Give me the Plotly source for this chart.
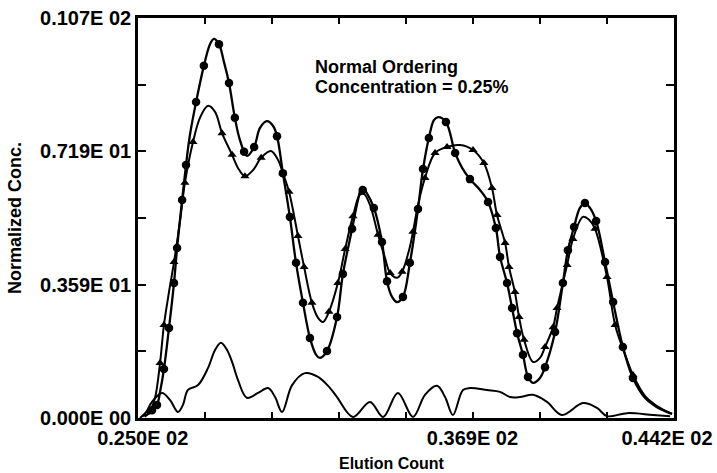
import plotly.graph_objects as go

# ---- data ----
# Series A: circles (smooth line through read points)
a_line_x = [25.14, 25.43, 25.68, 25.79, 25.93, 26.11, 26.29, 26.40, 26.58, 26.72, 26.86, 27.08, 27.36, 27.58, 27.72,
            27.90, 28.08, 28.26, 28.47, 28.65, 28.90, 29.16, 29.37, 29.62, 29.84, 29.98, 30.19, 30.44, 30.66, 30.91,
            31.16, 31.38, 31.52, 31.77, 32.13, 32.34, 32.67, 32.88, 33.02, 33.17, 33.45, 33.74, 33.92, 34.10, 34.28,
            34.49, 34.74, 35.03, 35.21, 35.42, 35.60, 35.75, 36.03, 36.36, 36.61, 36.89, 37.25, 37.54, 37.82, 37.97,
            38.22, 38.40, 38.58, 38.79, 38.97, 39.15, 39.40, 39.58, 39.94, 40.22, 40.40, 40.62, 40.83, 41.01, 41.19,
            41.41, 41.73, 42.02, 42.37, 42.73, 43.16, 43.59, 44.13]
a_line_y = [0.05, 0.13, 0.35, 0.70, 1.31, 2.41, 3.61, 4.55, 5.83, 6.77, 7.57, 8.45, 9.42, 10.00, 10.14,
            10.00, 9.52, 8.96, 8.03, 7.44, 7.01, 7.25, 7.76, 7.94, 7.81, 7.54, 6.55, 5.38, 4.15, 3.08,
            2.14, 1.69, 1.61, 1.79, 2.70, 3.85, 5.06, 5.83, 6.18, 6.05, 5.62, 4.71, 3.66, 3.24, 3.10,
            3.24, 4.15, 5.59, 6.66, 7.49, 7.97, 8.05, 7.92, 7.09, 6.69, 6.39, 6.10, 5.78, 5.08, 4.31,
            3.61, 2.94, 2.27, 1.69, 1.10, 0.94, 1.07, 1.36, 2.30, 3.61, 4.49, 5.11, 5.62, 5.75, 5.62,
            5.27, 4.17, 3.10, 1.90, 1.07, 0.54, 0.29, 0.11]
a_mark_x = [25.50, 25.68, 25.93, 26.11, 26.29, 26.40, 26.58, 26.72, 27.08, 27.36, 27.90, 28.26, 28.47, 28.80,
            29.16, 29.98, 30.19, 30.44, 30.66, 30.91, 31.16, 31.77, 32.13, 32.34, 32.67, 33.05, 33.45, 33.74,
            33.92, 34.49, 34.74, 35.03, 35.21, 35.42, 36.03, 36.36, 36.89, 37.54, 37.82, 37.97, 38.22, 38.40,
            38.58, 38.79, 38.97, 39.58, 39.94, 40.22, 40.40, 40.62, 41.01, 41.41, 41.73, 42.02, 42.37, 42.73]
a_mark_y = [0.21, 0.35, 1.31, 2.41, 3.61, 4.55, 5.83, 6.77, 8.45, 9.42, 10.00, 8.96, 8.03, 7.12,
            7.25, 7.54, 6.55, 5.38, 4.15, 3.08, 2.14, 1.79, 2.70, 3.85, 5.06, 6.10, 5.62, 4.71,
            3.66, 3.24, 4.15, 5.59, 6.66, 7.49, 7.92, 7.09, 6.39, 5.78, 5.08, 4.31, 3.61, 2.94,
            2.27, 1.69, 1.10, 1.36, 2.30, 3.61, 4.49, 5.11, 5.75, 5.27, 4.17, 3.10, 1.90, 1.07]

# Series B: triangles
b_line_x = [25.25, 25.43, 25.61, 25.79, 25.93, 26.11, 26.29, 26.50, 26.68, 26.97, 27.22, 27.51, 27.76, 28.01,
            28.37, 28.58, 28.83, 29.12, 29.41, 29.76, 30.02, 30.19, 30.41, 30.73, 30.95, 31.23, 31.45, 31.63,
            31.84, 32.16, 32.42, 32.70, 32.95, 33.10, 33.31, 33.60, 33.85, 34.03, 34.28, 34.46, 34.71, 34.85,
            35.03, 35.28, 35.64, 36.07, 36.53, 37.00, 37.39, 37.68, 37.86, 38.15, 38.29, 38.50, 38.65, 38.83,
            39.15, 39.40, 39.58, 39.87, 40.01, 40.37, 40.58, 40.94, 41.16, 41.37, 41.80, 42.09, 42.45, 42.73,
            43.16, 43.59, 44.13]
b_line_y = [0.03, 0.19, 0.54, 1.47, 2.49, 3.37, 4.17, 5.24, 6.29, 7.38, 8.03, 8.35, 8.19, 7.62,
            7.04, 6.69, 6.47, 6.63, 6.96, 7.14, 6.90, 6.55, 6.05, 4.87, 4.04, 3.08, 2.68, 2.57,
            2.84, 3.61, 4.52, 5.40, 5.97, 5.99, 5.70, 4.90, 4.28, 3.88, 3.75, 3.91, 4.49, 4.98,
            5.70, 6.42, 7.09, 7.25, 7.30, 7.17, 6.82, 6.15, 5.43, 4.68, 4.04, 3.37, 2.70, 2.09,
            1.50, 1.61, 1.90, 2.43, 2.94, 4.09, 4.79, 5.38, 5.30, 5.06, 3.77, 2.49, 1.69, 1.15,
            0.59, 0.32, 0.11]
b_mark_x = [25.43, 25.79, 25.93, 26.29, 26.68, 26.97, 28.01, 28.37, 28.83, 29.41, 30.19, 30.41, 30.73, 30.95,
            31.23, 31.84, 32.16, 32.42, 32.70, 33.60, 34.03, 34.46, 34.85, 35.28, 35.64, 36.07, 37.00, 37.39,
            37.68, 37.86, 38.15, 38.29, 38.50, 38.65, 38.83, 39.58, 39.87, 40.01, 40.37, 40.58, 41.37, 41.80,
            42.09, 42.73]
b_mark_y = [0.19, 1.47, 2.49, 4.17, 6.29, 7.38, 7.62, 7.04, 6.47, 6.96, 6.55, 6.05, 4.87, 4.04,
            3.08, 2.84, 3.61, 4.52, 5.40, 4.90, 3.88, 3.91, 4.98, 6.42, 7.09, 7.25, 7.17, 6.82,
            6.15, 5.43, 4.68, 4.04, 3.37, 2.70, 2.09, 1.90, 2.43, 2.94, 4.09, 4.79, 5.06, 3.77,
            2.49, 1.15]

# Residual curve (no markers)
r_x = [25.07, 25.29, 25.50, 25.86, 26.15, 26.43, 26.61, 26.79, 27.15, 27.51, 27.76, 27.97, 28.19, 28.37,
       28.58, 28.90, 29.30, 29.66, 29.91, 30.16, 30.52, 30.98, 31.45, 31.88, 32.13, 32.70, 33.31, 33.78,
       34.31, 34.85, 35.28, 35.71, 36.00, 36.28, 36.64, 36.89, 37.50, 37.97, 38.33, 38.68, 39.15, 39.65,
       40.19, 40.94, 41.44, 41.80, 42.52, 43.45, 44.06]
r_y = [0.00, 0.16, 0.43, 0.67, 0.48, 0.16, 0.35, 0.75, 0.88, 1.34, 1.82, 2.01, 1.82, 1.50,
       1.02, 0.54, 0.67, 0.80, 0.56, 0.16, 0.88, 1.20, 1.10, 0.80, 0.56, 0.03, 0.43, 0.03,
       0.67, 0.03, 0.62, 0.86, 0.56, 0.08, 0.75, 0.80, 0.75, 0.70, 0.56, 0.56, 0.62, 0.43,
       0.08, 0.40, 0.27, 0.05, 0.13, 0.08, 0.05]

# tick labels (label positions as printed in the reference) and tick marks
x_label_vals = [25.17, 36.98, 43.95]
x_tick_text = ["0.250E 02", "0.369E 02", "0.442E 02"]
x_mark_vals = [27.4, 29.8, 32.2, 34.6, 37.0, 39.4, 41.8]
y_tick_vals = [0.0, 3.567, 7.133, 10.7]
y_tick_text = ["0.000E 00", "0.359E 01", "0.719E 01", "0.107E 02"]
y_mark_vals = [1.783, 5.35, 8.917]

x_title = "Elution Count"
y_title = "Normalized Conc."
note_lines = ["Normal Ordering", "Concentration = 0.25%"]
note_x = 31.27
note_y = [9.39, 8.85]

FONT = "Liberation Sans"
fig = go.Figure()
fig.add_trace(go.Scatter(x=a_line_x, y=a_line_y, mode="lines", line=dict(color="black", width=2.3, shape="spline"),
                         hoverinfo="skip", showlegend=False))
fig.add_trace(go.Scatter(x=a_mark_x, y=a_mark_y, mode="markers",
                         marker=dict(symbol="circle", size=8.5, color="black"), showlegend=False))
fig.add_trace(go.Scatter(x=b_line_x, y=b_line_y, mode="lines", line=dict(color="black", width=2, shape="spline"),
                         hoverinfo="skip", showlegend=False))
fig.add_trace(go.Scatter(x=b_mark_x, y=b_mark_y, mode="markers",
                         marker=dict(symbol="triangle-up", size=8, color="black"), showlegend=False))
fig.add_trace(go.Scatter(x=r_x, y=r_y, mode="lines", line=dict(color="black", width=2, shape="spline"),
                         showlegend=False))

axis_common = dict(showgrid=False, zeroline=False, showline=True, linecolor="black", linewidth=2.5,
                   mirror="allticks", tickcolor="black", tickwidth=2, automargin=False,
                   ticklabeloverflow="allow",
                   tickfont=dict(family=FONT, size=20, color="black", weight="bold"))
fig.update_xaxes(range=[25.0, 44.2], tickvals=x_label_vals, ticktext=x_tick_text, ticks="", ticklen=0,
                 minor=dict(tickvals=x_mark_vals, ticks="inside", ticklen=6, tickwidth=2, tickcolor="black"),
                 **axis_common)
fig.update_yaxes(range=[0, 10.7], tickvals=y_tick_vals, ticktext=y_tick_text, ticks="inside", ticklen=8,
                 minor=dict(tickvals=y_mark_vals, ticks="inside", ticklen=8, tickwidth=2, tickcolor="black"),
                 title=dict(text=y_title, font=dict(family=FONT, size=18, color="black", weight="bold"),
                            standoff=14),
                 **axis_common)

# x-axis title (placed left of centre as in the reference)
fig.add_annotation(x=0.474, y=-0.1125, xref="paper", yref="paper", xanchor="center", yanchor="middle",
                   showarrow=False, text=x_title,
                   font=dict(family=FONT, size=16, color="black", weight="bold"))

for txt, yy in zip(note_lines, note_y):
    fig.add_annotation(x=note_x, y=yy, xref="x", yref="y", xanchor="left", yanchor="middle", align="left",
                       showarrow=False, text=txt,
                       font=dict(family=FONT, size=18, color="black", weight="bold"))

fig.update_layout(width=717, height=473, margin=dict(l=138, r=43, t=18, b=55),
                  plot_bgcolor="white", paper_bgcolor="white")
fig.write_html("out.html")
